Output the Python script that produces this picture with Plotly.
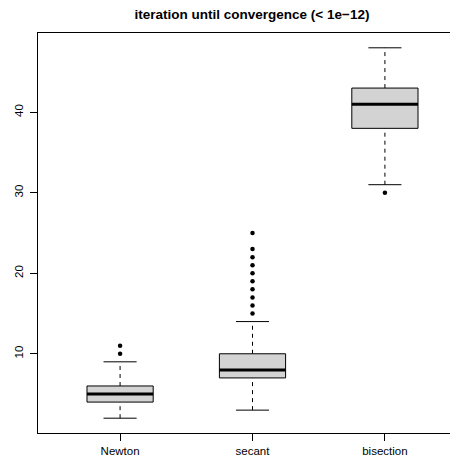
import plotly.graph_objects as go

methods = ["Newton", "secant", "bisection"]
lower_whisker = [2, 3, 31]
q1 = [4, 7, 38]
median = [5, 8, 41]
q3 = [6, 10, 43]
upper_whisker = [9, 14, 48]
outliers = [
    [10, 11],
    [15, 16, 17, 18, 19, 20, 21, 22, 23, 25],
    [30],
]
title_text = "iteration until convergence (< 1e\u221212)"
y_ticks = [10, 20, 30, 40]

box_half = 0.25
cap_half = 0.125
line_col = "#000000"
fill_col = "#D3D3D3"

fig = go.Figure()
for i, name in enumerate(methods):
    x = i + 1
    # dashed whiskers
    for a, b in [(lower_whisker[i], q1[i]), (q3[i], upper_whisker[i])]:
        fig.add_trace(go.Scatter(x=[x, x], y=[a, b], mode="lines",
                                 line=dict(color=line_col, width=1, dash="4px,4px"),
                                 hoverinfo="skip", showlegend=False))
    # caps
    for v in [lower_whisker[i], upper_whisker[i]]:
        fig.add_trace(go.Scatter(x=[x - cap_half, x + cap_half], y=[v, v], mode="lines",
                                 line=dict(color=line_col, width=1),
                                 hoverinfo="skip", showlegend=False))
    # box
    fig.add_trace(go.Scatter(
        x=[x - box_half, x + box_half, x + box_half, x - box_half, x - box_half],
        y=[q1[i], q1[i], q3[i], q3[i], q1[i]],
        mode="lines", fill="toself", fillcolor=fill_col,
        line=dict(color=line_col, width=1), hoverinfo="skip", showlegend=False))
    # median
    fig.add_trace(go.Scatter(x=[x - box_half, x + box_half], y=[median[i], median[i]],
                             mode="lines", line=dict(color=line_col, width=3),
                             hoverinfo="skip", showlegend=False))
    # outliers
    fig.add_trace(go.Scatter(x=[x] * len(outliers[i]), y=outliers[i], mode="markers",
                             marker=dict(color=line_col, size=4.5, symbol="circle"),
                             hoverinfo="skip", showlegend=False))

font = "Liberation Sans, Arial, Helvetica, sans-serif"
W, H = 459, 458
fig.update_layout(
    width=W, height=H,
    margin=dict(l=30, r=0, t=25, b=33, autoexpand=False),
    paper_bgcolor="white", plot_bgcolor="white",
    font=dict(family=font, size=12, color="black"),
    title=dict(text="<b>" + title_text + "</b>", x=244 / W, xanchor="center",
               y=1 - 6 / H, yanchor="middle", font=dict(size=13.5)),
    xaxis=dict(range=[0.38, 3.62], tickmode="array", tickvals=[1, 2, 3], ticktext=methods,
               showline=True, linecolor="black", linewidth=1, mirror=True,
               ticks="outside", ticklen=7, tickcolor="black", showgrid=False,
               zeroline=False, tickfont=dict(size=11.5), automargin=False),
    yaxis=dict(range=[0.16, 49.84], tickmode="array", tickvals=y_ticks,
               showline=True, linecolor="black", linewidth=1,
               ticks="outside", ticklen=7, tickcolor="black", showgrid=False,
               zeroline=False, tickangle=-90, tickfont=dict(size=11.5),
               ticklabelstandoff=2, automargin=False),
)
fig.write_html("out.html")
